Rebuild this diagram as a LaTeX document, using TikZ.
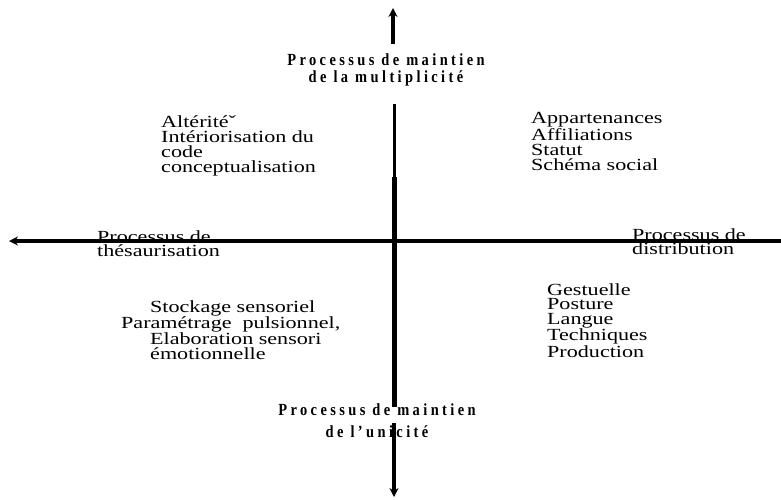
\documentclass[tikz,border=0pt]{standalone}
\usepackage{fontspec}
\setmainfont{Liberation Serif}
\newfontfamily\quadfont[FakeStretch=1.3]{Liberation Serif}
\newfontfamily\procfont[FakeStretch=0.85,LetterSpace=20]{Liberation Serif}
\usetikzlibrary{arrows.meta}

\begin{document}
\begin{tikzpicture}[
    x=1pt, y=-1pt,
    axis/.style={line width=3.5pt},
    tip/.style={-{Stealth[length=9pt,width=9pt]}},
    quadrant/.style={anchor=base west, align=left, inner sep=0pt,
        font=\quadfont\fontsize{17}{14.8}\selectfont},
    process/.style={anchor=base, align=center, inner sep=0pt,
        font=\procfont\bfseries\fontsize{17}{17}\selectfont}
]
\useasboundingbox (0,0) rectangle (781,499);

% Vertical axis: maintien
\coordinate (ntop) at (393,8);
\coordinate (nstub) at (393,44);
\coordinate (nmid) at (394,104);
\coordinate (nthick) at (394,177);
\coordinate (ngap) at (394,407);
\coordinate (nres) at (394,423);
\coordinate (nbot) at (394,497);
\draw[axis, tip] (nstub) -- (ntop);
\draw[line width=3pt] (nmid) -- (nthick);
\draw[line width=5pt] (nthick) -- (ngap);
\draw[axis, tip] (nres) -- (nbot);

% Horizontal axis: thesaurisation / distribution
\coordinate (west) at (9,241);
\coordinate (east) at (781,241);
\draw[axis, tip] (east) -- (west);

% Axis labels (base anchor = last line)
\node[process] (multi) at (386,82) {Processus de maintien\\de la multiplicité};
\node[process] (unic) at (377,437) {Processus de maintien\\[5pt]de l’unicité};
\node[quadrant] (thes) at (97,256) {Processus de\\[-0.8pt]thésaurisation};
\node[quadrant] (distr) at (632,254) {Processus de\\[-0.8pt]distribution};

% Quadrant contents
\node[quadrant] (alter) at (161,172) {Altéritéˇ\\Intériorisation du\\code\\conceptualisation};
\node[quadrant] (appart) at (531,170) {Appartenances\\Affiliations\\Statut\\Schéma social};
\node[quadrant] (stock) at (150,359) {Stockage sensoriel\\[-0.5pt]\hspace*{-29pt}Paramétrage\ \ pulsionnel,\\[-0.5pt]Elaboration sensori\\[-0.5pt]émotionnelle};
\node[quadrant] (gest) at (547,357) {Gestuelle\\[-0.2pt]Posture\\[-0.2pt]Langue\\[-0.2pt]Techniques\\[-0.2pt]Production};

\end{tikzpicture}
\end{document}
